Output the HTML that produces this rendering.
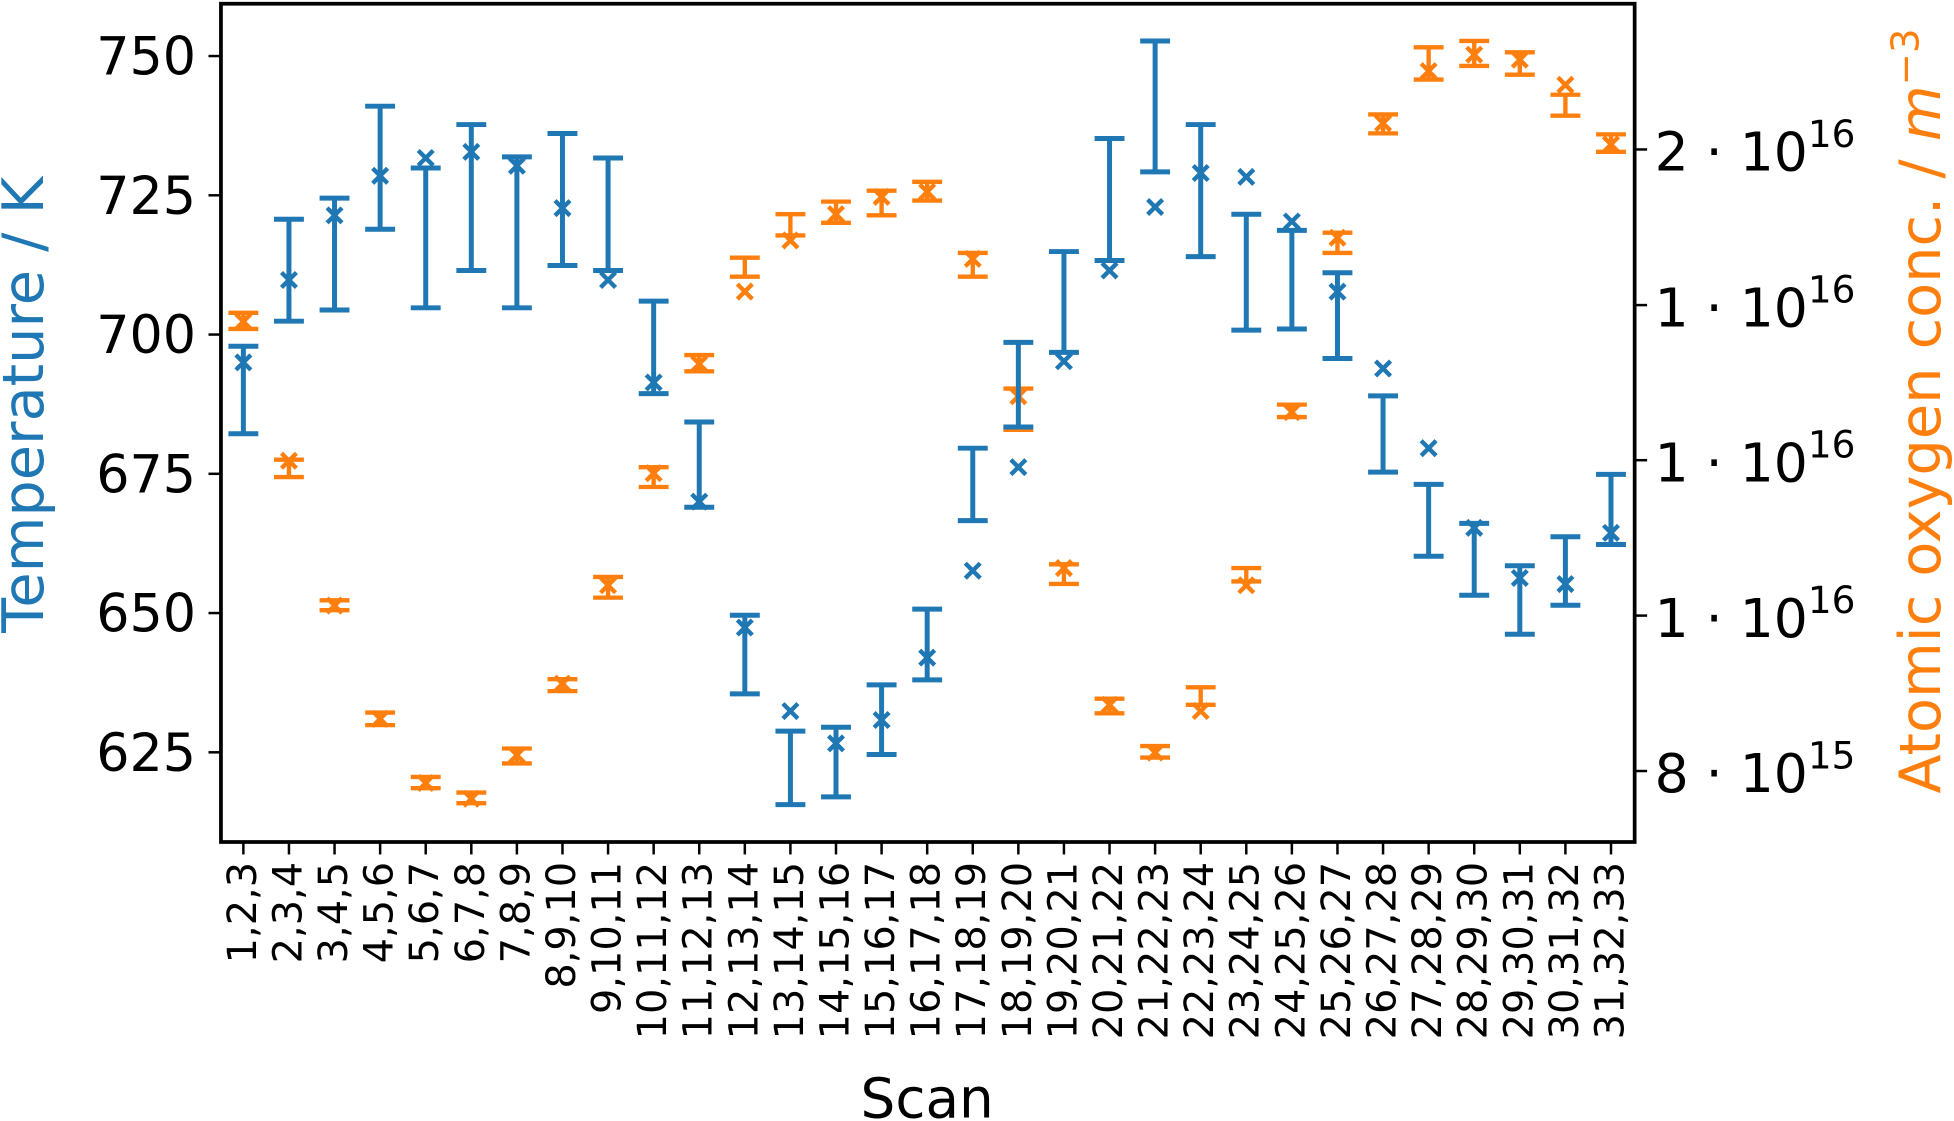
<!DOCTYPE html>
<html><head><meta charset="utf-8">
<style>
html,body{margin:0;padding:0;background:#fff;}
svg{display:block;font-family:"DejaVu Sans","Liberation Sans",sans-serif;}
</style></head>
<body>
<svg id="chart" width="1954" height="1121" viewBox="0 0 1568 900" xmlns="http://www.w3.org/2000/svg">
<rect width="1568" height="900" fill="#fff"/>
<g id="plot"></g>
<rect x="177" y="3" width="1135" height="673" fill="none" stroke="#000" stroke-width="3"/>
<g id="axes"></g>
<text x="744" y="897" font-size="44" text-anchor="middle">Scan</text>
<text transform="translate(34,325) rotate(-90)" font-size="46" text-anchor="middle" fill="#1f77b4">Temperature / K</text>
<text transform="translate(1557,330) rotate(-90)" font-size="46" text-anchor="middle" fill="#ff7f0e">Atomic oxygen conc. / <tspan font-style="italic">m</tspan><tspan font-size="31" dy="-17">−3</tspan></text>
</svg>
<script>
const categories = ["1,2,3","2,3,4","3,4,5","4,5,6","5,6,7","6,7,8","7,8,9","8,9,10","9,10,11","10,11,12","11,12,13","12,13,14","13,14,15","14,15,16","15,16,17","16,17,18","17,18,19","18,19,20","19,20,21","20,21,22","21,22,23","22,23,24","23,24,25","24,25,26","25,26,27","26,27,28","27,28,29","28,29,30","29,30,31","30,31,32","31,32,33"];
const tempMarker = [695,709.8,721.4,728.5,731.7,732.8,730.3,722.7,709.8,691.4,670,647.4,632.4,626.6,630.8,642,657.6,676.2,695.2,711.5,722.9,729,728.3,720.3,707.7,693.9,679.6,665.3,656.3,655.2,664.4];
const tempHigh = [697.9,720.7,724.5,741,729.9,737.7,731.9,736.1,731.7,706,684.3,649.6,628.8,629.5,637.1,650.7,679.6,698.6,714.9,735.2,752.7,737.7,721.6,718.7,711.1,689,673.1,666.1,658.5,663.7,674.9];
const tempLow = [682.2,702.4,704.4,718.9,704.8,711.5,704.8,712.4,711.5,689.4,669,635.5,615.6,617,624.6,638,666.6,683.4,696.8,713.3,729.2,714,700.8,701,695.7,675.3,660.2,653.2,646.2,651.4,662.3];
const oxMarker = [1.552,1.264,1.021,0.864,0.786,0.768,0.819,0.910,1.052,1.241,1.458,1.622,1.749,1.818,1.865,1.879,1.702,1.390,1.079,0.882,0.822,0.874,1.052,1.358,1.756,2.079,2.245,2.300,2.283,2.200,2.015];
const oxHigh = [1.572,1.266,1.029,0.872,0.793,0.775,0.827,0.916,1.065,1.252,1.477,1.705,1.818,1.852,1.882,1.907,1.717,1.406,1.085,0.890,0.830,0.905,1.079,1.373,1.769,2.106,2.325,2.347,2.308,2.168,2.045];
const oxLow = [1.535,1.234,1.014,0.856,0.780,0.763,0.809,0.900,1.033,1.216,1.442,1.658,1.762,1.795,1.815,1.855,1.658,1.323,1.054,0.871,0.816,0.882,1.058,1.348,1.717,2.048,2.217,2.262,2.233,2.102,1.993];
const leftTicks = [625,650,675,700,725,750];
const rightTickValues = [2,1.59,1.265,1.006,0.8];
const rightTickMant = ["2","1","1","1","8"];
const rightTickExp = ["16","16","16","16","15"];

const NS="http://www.w3.org/2000/svg";
const plot=document.getElementById('plot'), axes=document.getElementById('axes');
function xPos(i){return 195+i*(1293-195)/30;}
function yT(v){return 45+(750-v)*4.472;}
function yO(c){return 120+Math.log10(2/c)*1254;}
function mk(tag,attrs,parent){const e=document.createElementNS(NS,tag);for(const k in attrs)e.setAttribute(k,attrs[k]);parent.appendChild(e);return e;}
function errbar(x,y1,y2,ym,color,w,cap,parent,name){
  const g=mk('g',{},parent);
  
  
  mk('line',{x1:x,x2:x,y1:y1,y2:y2,stroke:color,'stroke-width':w},g);
  mk('line',{x1:x-cap,x2:x+cap,y1:y1,y2:y1,stroke:color,'stroke-width':w},g);
  mk('line',{x1:x-cap,x2:x+cap,y1:y2,y2:y2,stroke:color,'stroke-width':w},g);
  const s=6;
  mk('path',{d:`M${x-s},${ym-s}L${x+s},${ym+s}M${x-s},${ym+s}L${x+s},${ym-s}`,stroke:color,'stroke-width':3.5,fill:'none'},g);
}
categories.forEach((c,i)=>{
  const x=xPos(i);
  errbar(x,yO(oxHigh[i]),yO(oxLow[i]),yO(oxMarker[i]),'#ff7f0e',3.5,12,plot,'oxygen-point');
  errbar(x,yT(tempHigh[i]),yT(tempLow[i]),yT(tempMarker[i]),'#1f77b4',4,12,plot,'temperature-point');
  mk('line',{x1:x,x2:x,y1:676,y2:686,stroke:'#000','stroke-width':2},axes);
  const t=mk('text',{transform:`translate(${x+10},692) rotate(-90)`,'font-size':32,'text-anchor':'end'},axes);
  
  
  t.textContent=c;
});
leftTicks.forEach(v=>{
  const y=yT(v);
  mk('line',{x1:167,x2:177,y1:y,y2:y,stroke:'#000','stroke-width':2},axes);
  const t=mk('text',{x:157,y:y+15,'font-size':42,'text-anchor':'end'},axes);
  
  
  t.textContent=v;
});
rightTickValues.forEach((v,i)=>{
  const y=yO(v);
  mk('line',{x1:1312,x2:1322,y1:y,y2:y,stroke:'#000','stroke-width':2},axes);
  const t=mk('text',{x:1328,y:y+17,'font-size':43},axes);
  
  
  t.textContent=rightTickMant[i]+' · 10';
  const s=mk('tspan',{'font-size':30,dy:-19},t);
  s.textContent=rightTickExp[i];
});
</script>
</body></html>
